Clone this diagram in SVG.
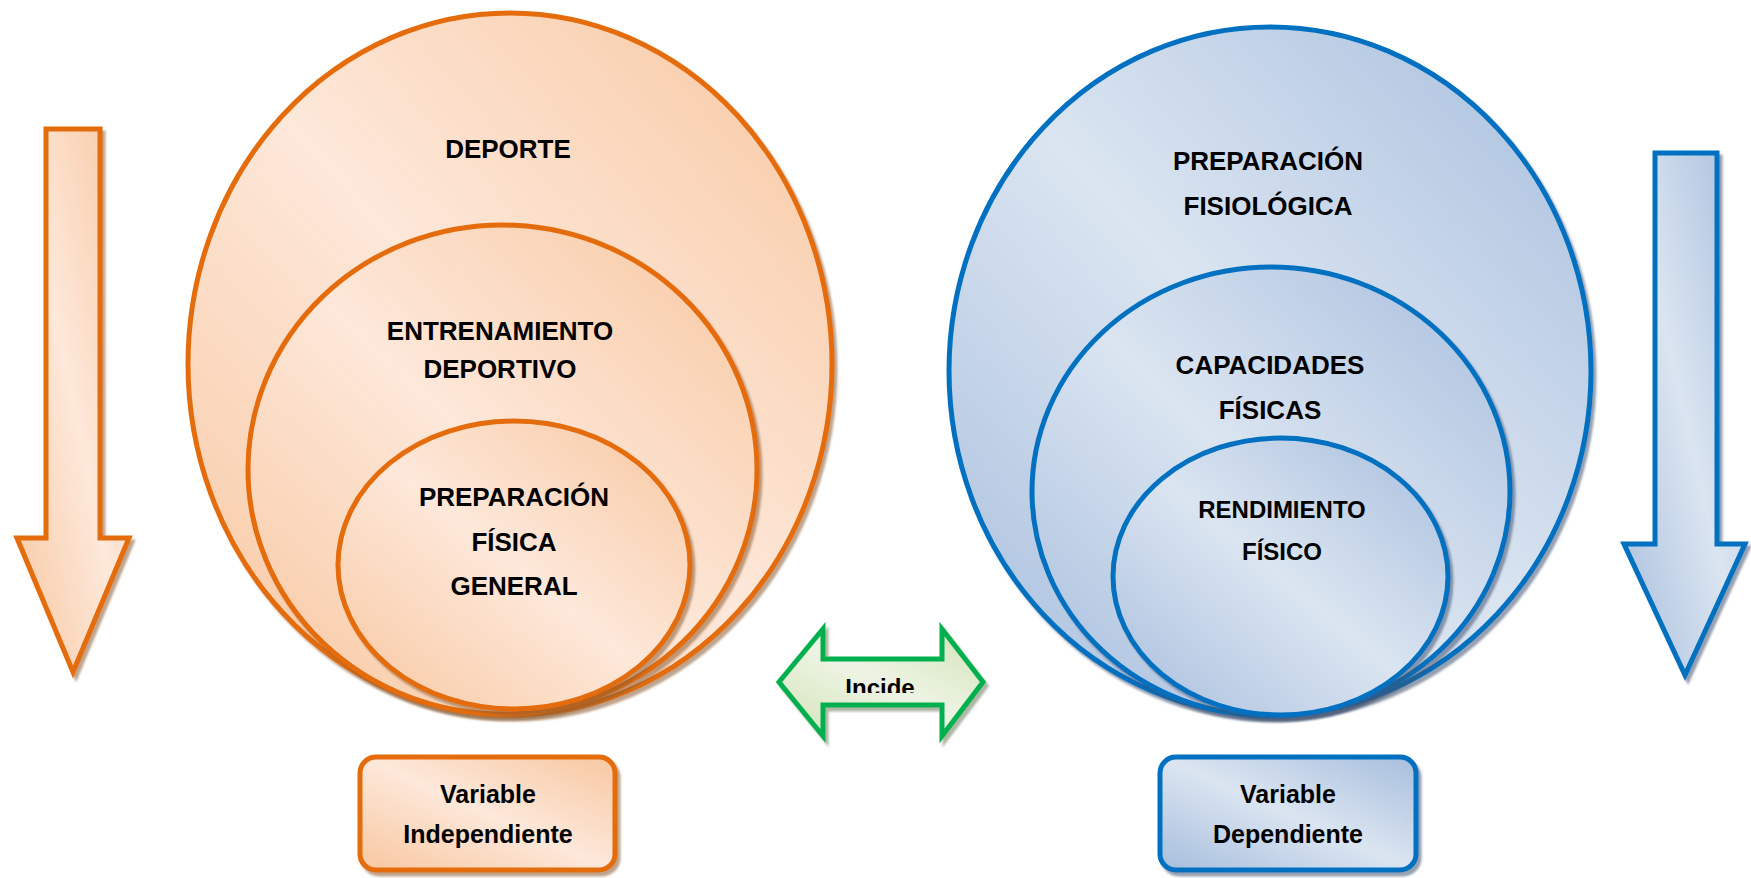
<svg xmlns="http://www.w3.org/2000/svg" width="1751" height="878" viewBox="0 0 1751 878">
<defs>
<linearGradient id="gO" x1="0" y1="1" x2="1" y2="0">
<stop offset="0" stop-color="#F8C7A0"/>
<stop offset="0.5" stop-color="#FDE8DA"/>
<stop offset="1" stop-color="#F8C7A0"/>
</linearGradient>
<linearGradient id="gB" x1="0" y1="1" x2="1" y2="0">
<stop offset="0" stop-color="#A7BEDD"/>
<stop offset="0.5" stop-color="#DBE5F1"/>
<stop offset="1" stop-color="#A7BEDD"/>
</linearGradient>
<linearGradient id="gG" x1="0" y1="1" x2="1" y2="0">
<stop offset="0" stop-color="#D3E3B8"/>
<stop offset="0.5" stop-color="#EEF4E4"/>
<stop offset="1" stop-color="#D3E3B8"/>
</linearGradient>
<filter id="shO" x="-10%" y="-10%" width="125%" height="125%">
<feOffset in="SourceAlpha" dx="3" dy="4" result="o"/>
<feGaussianBlur in="o" stdDeviation="1.2" result="b"/>
<feFlood flood-color="#8A5A30" flood-opacity="0.55"/>
<feComposite in2="b" operator="in"/>
<feMerge><feMergeNode/><feMergeNode in="SourceGraphic"/></feMerge>
</filter>
<filter id="shB" x="-10%" y="-10%" width="125%" height="125%">
<feOffset in="SourceAlpha" dx="3" dy="4" result="o"/>
<feGaussianBlur in="o" stdDeviation="1.2" result="b"/>
<feFlood flood-color="#3E5270" flood-opacity="0.55"/>
<feComposite in2="b" operator="in"/>
<feMerge><feMergeNode/><feMergeNode in="SourceGraphic"/></feMerge>
</filter>
<filter id="shG" x="-10%" y="-10%" width="125%" height="125%">
<feOffset in="SourceAlpha" dx="3" dy="4" result="o"/>
<feGaussianBlur in="o" stdDeviation="1.2" result="b"/>
<feFlood flood-color="#5C6E4A" flood-opacity="0.5"/>
<feComposite in2="b" operator="in"/>
<feMerge><feMergeNode/><feMergeNode in="SourceGraphic"/></feMerge>
</filter>
<clipPath id="clipIncide"><rect x="800" y="640" width="160" height="53"/></clipPath>
<style>
.o{fill:url(#gO);stroke:#E46C0A;stroke-width:5;filter:url(#shO)}
.b{fill:url(#gB);stroke:#0070C0;stroke-width:5;filter:url(#shB)}
.g{fill:url(#gG);stroke:#00B050;stroke-width:5;filter:url(#shG)}
.t{font-family:"Liberation Sans",Arial,sans-serif;font-weight:bold;font-size:26px;fill:#000;text-anchor:middle}
.s{font-size:25px}
.r{font-size:24px}
</style>
</defs>
<rect width="1751" height="878" fill="#fff"/>

<g id="arrow-left">
<path class="o" d="M46,129 H100 V538 H129 L73,672 L17,538 H46 Z"/>
</g>
<g id="arrow-right">
<path class="b" d="M1655,153 H1717 V544 H1745 L1685,675 L1624,544 H1655 Z"/>
</g>

<g id="deporte">
<ellipse class="o" cx="510" cy="364" rx="322" ry="351"/>
<text class="t" x="508" y="158">DEPORTE</text>
</g>
<g id="entrenamiento">
<ellipse class="o" cx="502.5" cy="469.5" rx="254.5" ry="244.5"/>
<text class="t" x="500" y="340">ENTRENAMIENTO</text>
<text class="t" x="500" y="378">DEPORTIVO</text>
</g>
<g id="preparacion-fisica">
<ellipse class="o" cx="514" cy="565" rx="176" ry="144"/>
<text class="t" x="514" y="506">PREPARACIÓN</text>
<text class="t" x="514" y="551">FÍSICA</text>
<text class="t" x="514" y="595">GENERAL</text>
</g>

<g id="preparacion-fisiologica">
<ellipse class="b" cx="1270" cy="371" rx="321" ry="344"/>
<text class="t" x="1268" y="170">PREPARACIÓN</text>
<text class="t" x="1268" y="215">FISIOLÓGICA</text>
</g>
<g id="capacidades">
<ellipse class="b" cx="1271" cy="491.5" rx="239" ry="224.5"/>
<text class="t" x="1270" y="374">CAPACIDADES</text>
<text class="t" x="1270" y="419">FÍSICAS</text>
</g>
<g id="rendimiento">
<ellipse class="b" cx="1280.5" cy="576.5" rx="167.5" ry="138.5"/>
<text class="t r" x="1282" y="518">RENDIMIENTO</text>
<text class="t r" x="1282" y="560">FÍSICO</text>
</g>

<g id="connectors">
<g id="incide">
<path class="g" d="M779,682 L823,629 V659 H942 V629 L983,682 L942,736 V705 H823 V736 Z"/>
<text class="t r" x="880" y="696" clip-path="url(#clipIncide)">Incide</text>
</g>
</g>

<g id="variable-independiente">
<rect class="o" x="360" y="757" width="255" height="113" rx="16"/>
<text class="t s" x="488" y="803">Variable</text>
<text class="t s" x="488" y="843">Independiente</text>
</g>
<g id="variable-dependiente">
<rect class="b" x="1160" y="757" width="256" height="113" rx="16"/>
<text class="t s" x="1288" y="803">Variable</text>
<text class="t s" x="1288" y="843">Dependiente</text>
</g>
</svg>
